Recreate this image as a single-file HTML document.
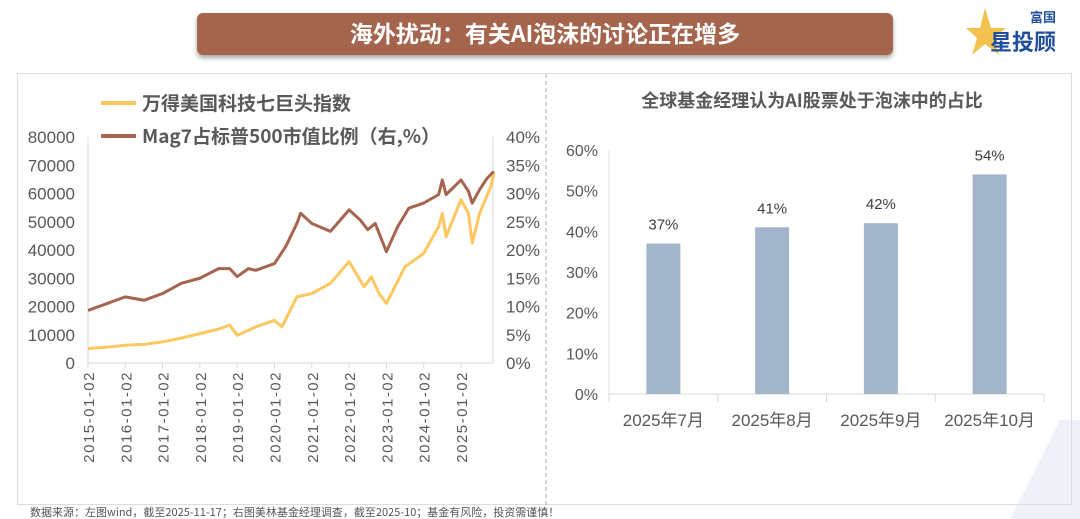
<!DOCTYPE html>
<html><head><meta charset="utf-8">
<style>
body{margin:0;width:1080px;height:519px;background:#fff;overflow:hidden;font-family:"Liberation Sans","Noto Sans CJK SC",sans-serif;}
svg{position:absolute;left:0;top:0}
</style></head>
<body>
<svg id="s" width="1080" height="519">
<defs><filter id="sh" x="-5%" y="-20%" width="110%" height="150%"><feDropShadow dx="0" dy="3" stdDeviation="2.5" flood-color="#000" flood-opacity="0.35"/></filter></defs>
<path d="M1010 519 L1060 420 L1080 420 L1080 519 Z" fill="#eef1f8"/>
<rect x="197" y="13" width="696" height="42" rx="6" fill="#a5654e" filter="url(#sh)"/>
<text x="545" y="42" text-anchor="middle" font-size="23" font-weight="bold" fill="#fff" font-family="'Noto Sans CJK SC',sans-serif">海外扰动：有关AI泡沫的讨论正在增多</text>
<g>
<polygon points="985,8 991,28 1006,28 994,38 999,55 985,44 972,55 977,38 966,28 980,28" fill="#f2c14e"/>
<text x="1030" y="22" font-size="13" font-weight="bold" fill="#1f4e9c" font-family="'Noto Sans CJK SC',sans-serif">富国</text>
<text x="990" y="50" font-size="22" font-weight="bold" fill="#1f4e9c" font-family="'Noto Sans CJK SC',sans-serif">星投顾</text>
</g>
<rect x="17.5" y="73.5" width="1054" height="431" fill="none" stroke="#ddd"/>
<line x1="546" y1="74" x2="546" y2="505" stroke="#aaa" stroke-dasharray="4,3"/>
<g id="left"></g>
<g id="right"></g>
<text x="30" y="516" font-size="11" fill="#555" font-family="'Noto Sans CJK SC',sans-serif">数据来源：左图wind，截至2025-11-17；右图美林基金经理调查，截至2025-10；基金有风险，投资需谨慎！</text>
</svg>
<script>
const years=["2015-01-02","2016-01-02","2017-01-02","2018-01-02","2019-01-02","2020-01-02","2021-01-02","2022-01-02","2023-01-02","2024-01-02","2025-01-02"];
const leftTicks=[0,10000,20000,30000,40000,50000,60000,70000,80000];
const rightTicks=[0,5,10,15,20,25,30,35,40];
const tIdx=[2015.0,2015.5,2016.0,2016.5,2017.0,2017.5,2018.0,2018.5,2018.8,2019.0,2019.5,2020.0,2020.2,2020.6,2021.0,2021.5,2022.0,2022.4,2022.6,2022.8,2023.0,2023.5,2024.0,2024.4,2024.5,2024.6,2025.0,2025.2,2025.3,2025.5,2025.8,2025.88];
const idxVals=[5100,5600,6300,6600,7500,8800,10400,12000,13400,9800,12800,15100,12800,23400,24600,28200,35900,27000,30500,24600,21100,34100,38800,48300,53000,44700,57800,53000,42400,53000,62500,67200];
const tPct=[2015.0,2015.5,2016.0,2016.5,2017.0,2017.5,2018.0,2018.5,2018.8,2019.0,2019.3,2019.5,2020.0,2020.3,2020.6,2020.7,2021.0,2021.5,2022.0,2022.3,2022.5,2022.7,2023.0,2023.3,2023.6,2024.0,2024.4,2024.5,2024.6,2025.0,2025.2,2025.3,2025.5,2025.7,2025.88];
const pctVals=[9.3,10.5,11.7,11.1,12.3,14.1,15.0,16.7,16.7,15.3,16.7,16.4,17.6,20.6,24.7,26.5,24.7,23.3,27.1,25.3,23.6,24.7,19.7,24.1,27.4,28.3,29.8,32.4,29.8,32.4,30.4,28.3,30.7,32.7,33.9];
const months=["2025年7月","2025年8月","2025年9月","2025年10月"];
const shares=[37,41,42,54];
const barTicks=[0,10,20,30,40,50,60];

const NS="http://www.w3.org/2000/svg";
function mk(p,tag,a){const e=document.createElementNS(NS,tag);for(const k in a)e.setAttribute(k,a[k]);p.appendChild(e);return e;}
const L=document.getElementById('left'),R=document.getElementById('right');
const x0=88,x1=493,yTop=137,yBot=363;
const xT=t=>x0+(t-2015)*37.3;
const yL=v=>yBot-(v/80000)*(yBot-yTop);
const yR=v=>yBot-(v/40)*(yBot-yTop);
let e=mk(L,'path',{d:`M${x0} ${yTop}V${yBot}H${x1}V${yTop}`,fill:'none',stroke:'#d9d9d9'});


leftTicks.forEach(v=>{const t=mk(L,'text',{x:75,y:yL(v)+6,'text-anchor':'end','font-size':17,fill:'#595959'});t.textContent=v;

});
rightTicks.forEach(v=>{const t=mk(L,'text',{x:506,y:yR(v)+6,'font-size':17,fill:'#595959'});t.textContent=v+'%';

});
years.forEach((s,i)=>{const x=xT(2015+i);mk(L,'line',{x1:x,x2:x,y1:yBot,y2:yBot+5,stroke:'#d9d9d9'});
const t=mk(L,'text',{transform:`translate(${x+6},${yBot+8}) rotate(-90)`,'text-anchor':'end','font-size':15,'letter-spacing':'1.5',fill:'#595959'});t.textContent=s;

});
const p1=mk(L,'polyline',{points:tIdx.map((t,i)=>xT(t)+','+yL(idxVals[i])).join(' '),fill:'none',stroke:'#ffc75f','stroke-width':3,'stroke-linejoin':'round'});


const p2=mk(L,'polyline',{points:tPct.map((t,i)=>xT(t)+','+yR(pctVals[i])).join(' '),fill:'none',stroke:'#a5654e','stroke-width':3,'stroke-linejoin':'round'});


[["#ffc75f","万得美国科技七巨头指数",103],["#a5654e","Mag7占标普500市值比例（右,%）",136]].forEach(([c,s,y])=>{
const g=mk(L,'g',{});


mk(g,'line',{x1:101,x2:136,y1:y,y2:y,stroke:c,'stroke-width':4});
const t=mk(g,'text',{x:142,y:y+7,'font-size':19,'font-weight':'bold',fill:'#595959','font-family':"'Noto Sans CJK SC',sans-serif"});t.textContent=s;});
// right chart
const bx0=609,bx1=1044,by0=394,by1=150;
const yB=v=>by0-(v/60)*(by0-by1);
const cw=(bx1-bx0)/months.length;
const tt=mk(R,'text',{x:812,y:107,'text-anchor':'middle','font-size':18,'font-weight':'bold',fill:'#595959','font-family':"'Noto Sans CJK SC',sans-serif"});tt.textContent='全球基金经理认为AI股票处于泡沫中的占比';


mk(R,'line',{x1:bx0,x2:bx0,y1:by1,y2:by0,stroke:'#e3e3e3'});
mk(R,'line',{x1:bx0,x2:bx1,y1:by0,y2:by0,stroke:'#d9d9d9'});
barTicks.forEach(v=>{const t=mk(R,'text',{x:598,y:yB(v)+6,'text-anchor':'end','font-size':16,fill:'#595959'});t.textContent=v+'%';

});
for(let i=0;i<=months.length;i++){const x=bx0+i*cw;mk(R,'line',{x1:x,x2:x,y1:by0,y2:by0+8,stroke:'#d9d9d9'});}
months.forEach((m,i)=>{const cx=bx0+cw*(i+0.5);
const b=mk(R,'rect',{x:cx-17,y:yB(shares[i]),width:34,height:by0-yB(shares[i]),fill:'#a2b5cb'});


const v=mk(R,'text',{x:cx,y:yB(shares[i])-14,'text-anchor':'middle','font-size':15,fill:'#404040'});v.textContent=shares[i]+'%';


const t=mk(R,'text',{x:cx,y:426,'text-anchor':'middle','font-size':17,fill:'#595959','font-family':"'Liberation Sans','Noto Sans CJK SC',sans-serif"});t.textContent=m;

});
</script>
</body></html>
